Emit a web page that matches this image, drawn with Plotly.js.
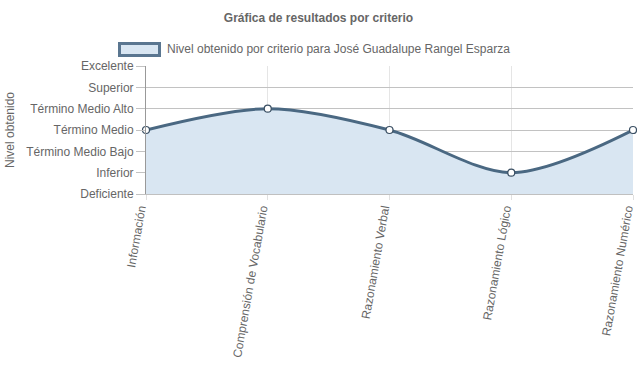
<!DOCTYPE html>
<html><head><meta charset="utf-8">
<script src="https://cdn.plot.ly/plotly-3.0.1.min.js"></script>
<style>body{margin:0;}#chart{width:637px;height:389px;}</style>
</head><body><div id="chart"></div>
<script>
const categories = ["Información", "Comprensión de Vocabulario", "Razonamiento Verbal", "Razonamiento Lógico", "Razonamiento Numérico"];
const levelLabels = ["Deficiente", "Inferior", "Término Medio Bajo", "Término Medio", "Término Medio Alto", "Superior", "Excelente"];
const levelValues = [3, 4, 3, 1, 3];
const seriesName = "Nivel obtenido por criterio para José Guadalupe Rangel Esparza";

const xIdx = categories.map((c, i) => i);
const trace = {
  x: xIdx, y: levelValues, type: 'scatter', mode: 'lines+markers',
  name: seriesName, showlegend: false,
  fill: 'tozeroy', fillcolor: 'rgba(217,230,242,1)',
  line: {color: '#4a6882', width: 3, shape: 'spline', smoothing: 0.9},
  marker: {size: 7, color: '#ffffff', line: {color: '#3a4f63', width: 1.2}},
  hoverinfo: 'skip', cliponaxis: false
};
const font = {family: 'Liberation Sans, Arial, sans-serif', size: 12, color: '#666'};
// legend drawn as a box + text (plot area: x 146..633, y 66..194 px)
const px = v => (v - 146) / 487;
const py = v => (194 - v) / 128;
const layout = {
  width: 637, height: 389,
  margin: {l: 146, r: 4, t: 66, b: 195, autoexpand: false},
  paper_bgcolor: '#fff', plot_bgcolor: '#fff',
  font: font,
  title: {text: '<b>Gráfica de resultados por criterio</b>', x: 0.5, xanchor: 'center', y: 0.955, yanchor: 'middle', font: {family: font.family, size: 12, color: '#666'}},
  showlegend: false,
  shapes: [{type: 'rect', xref: 'paper', yref: 'paper', x0: px(119.5), x1: px(159.5), y0: py(43.5), y1: py(55.5),
            fillcolor: 'rgba(217,230,242,1)', line: {color: '#5a7690', width: 3}}],
  annotations: [{text: seriesName, xref: 'paper', yref: 'paper', x: px(165), y: py(49), xanchor: 'left', yanchor: 'middle', showarrow: false, font: font}],
  xaxis: {
    range: [0, 4], tickvals: xIdx, ticktext: categories, tickangle: -80,
    ticklabeloverflow: 'allow', ticklabelshift: -6, ticklabelstandoff: -3,
    showgrid: true, gridcolor: '#e5e5e5', gridwidth: 1,
    zeroline: false, showline: true, linecolor: '#c0c0c0',
    ticks: 'outside', ticklen: 5, tickcolor: '#e0e0e0',
    tickfont: font, automargin: false, fixedrange: true
  },
  yaxis: {
    range: [0, 6], tickvals: [0,1,2,3,4,5,6], ticktext: levelLabels,
    showgrid: true, gridcolor: '#c2c2c2', gridwidth: 1,
    zeroline: false, showline: true, linecolor: '#999',
    ticks: 'outside', ticklen: 9, tickcolor: '#c2c2c2',
    tickfont: font, automargin: false,
    title: {text: 'Nivel obtenido', font: font, standoff: 9},
    fixedrange: true
  }
};
Plotly.newPlot('chart', [trace], layout, {displayModeBar: false, staticPlot: true});
</script></body></html>
